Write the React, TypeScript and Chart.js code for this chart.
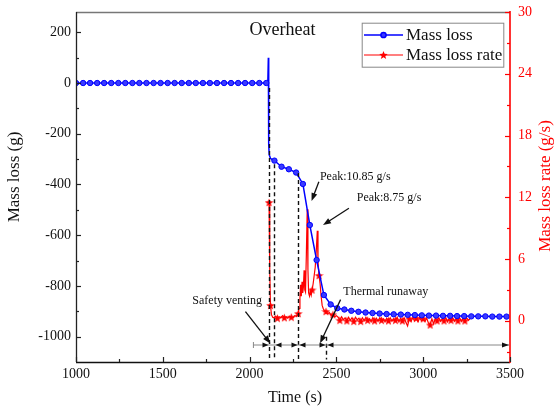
import React, { useEffect, useRef } from 'react';
import { Chart, registerables } from 'chart.js';
Chart.register(...registerables);

// ---------- data ----------
const massLossTime = [
  1000, 1041, 1081, 1122, 1162, 1203, 1244, 1284, 1325, 1365, 1406, 1447, 1487, 1528,
  1568, 1609, 1650, 1690, 1731, 1771, 1812, 1853, 1893, 1934, 1974, 2015, 2056, 2096,
  2105, 2108, 2110, 2113, 2120, 2130,
  2143, 2184, 2226, 2268, 2307, 2347, 2386, 2428, 2467, 2505,
  2546, 2586, 2627, 2668, 2708, 2749, 2789, 2830, 2871, 2911, 2952, 2992, 3033, 3074,
  3114, 3155, 3195, 3236, 3277, 3317, 3358, 3398, 3439, 3480,
];
const massLossValue = [
  0, 0, 0, 0, 0, 0, 0, 0, 0, 0, 0, 0, 0, 0,
  0, 0, 0, 0, 0, 0, 0, 0, 0, 0, 0, 0, 0, 0,
  0, 100, -240, -283, -297, -302,
  -306, -330, -340, -353, -398, -560, -698, -836, -873, -888,
  -893, -898, -902, -905, -907, -909, -911, -912, -913, -914, -915, -916, -917, -917,
  -918, -918, -919, -919, -920, -920, -920, -921, -921, -921,
];

const rateTime = [
  2112, 2116, 2120, 2126, 2133, 2140, 2150, 2160, 2170, 2180, 2190, 2200, 2210, 2220,
  2230, 2240, 2250, 2260, 2270, 2280,
  2285, 2290, 2294, 2298, 2302, 2306, 2310, 2314, 2318, 2322, 2327, 2332, 2336, 2340,
  2345, 2350, 2355, 2360, 2366, 2372, 2378, 2384, 2390, 2394, 2400, 2406, 2412, 2418,
  2424, 2430, 2440, 2450, 2460, 2470, 2480, 2490, 2500,
  2510, 2520, 2530, 2540, 2550, 2560, 2570, 2580, 2590, 2600, 2610, 2620, 2630, 2640,
  2650, 2660, 2670, 2680, 2690, 2700, 2710, 2720, 2730, 2740, 2750, 2760, 2770, 2780,
  2790, 2800, 2810, 2820, 2830, 2840, 2850, 2860, 2870, 2880, 2890, 2900, 2910, 2920,
  2930, 2940, 2950, 2960, 2970, 2980, 2990, 3000, 3010, 3020, 3030, 3040, 3050, 3060,
  3070, 3080, 3090, 3100, 3110, 3120, 3130, 3140, 3150, 3160, 3170, 3180, 3190, 3200,
  3210, 3220, 3230, 3240, 3250, 3260, 3270,
];
const rateValue = [
  11.5, 5.0, 1.5, 0.6, 0.35, 0.3, 0.45, 0.25, 0.4, 0.3, 0.5, 0.3, 0.4, 0.25,
  0.45, 0.35, 0.3, 0.5, 0.45, 0.7,
  1.2, 2.2, 3.5, 2.4, 3.8, 2.7, 3.3, 4.9, 3.0, 2.8, 6.5, 10.85, 5.0, 2.7,
  2.4, 2.9, 2.5, 3.0, 3.6, 4.4, 5.2, 6.8, 8.75, 5.8, 4.4, 3.6, 2.4, 1.5,
  1.2, 1.0, 0.9, 0.7, 0.8, 0.5, 0.6, 0.4, 0.5,
  0.35, 0.05, 0.4, 0.1, 0.3, 0.0, 0.35, 0.05, 0.3, -0.05, 0.35, 0.1, 0.25, -0.05,
  0.3, 0.0, 0.35, 0.05, 0.2, -0.1, 0.3, 0.0, 0.25, -0.05, 0.3, 0.05, 0.2, -0.1,
  0.25, 0.0, 0.3, -0.05, 0.2, 0.05, 0.35, -0.1, 0.25, 0.0, 0.3, -0.15, -0.5, 0.2,
  -0.05, 0.3, 0.0, 0.25, -0.1, 0.3, 0.0, 0.2, -0.05, 0.25, -0.2, -0.4, 0.2, -0.3,
  0.25, 0.0, 0.3, -0.05, 0.2, 0.0, 0.3, -0.1, 0.25, 0.05, 0.3, -0.05, 0.2, 0.0,
  0.3, -0.05, 0.25, 0.0, 0.3, 0.05, 0.2,
];

const xTicks = [1000, 1500, 2000, 2500, 3000, 3500];
const xMinorTicks = [1250, 1750, 2250, 2750, 3250];
const yLeftTicks = [-1000, -800, -600, -400, -200, 0, 200];
const yLeftMinor = [-900, -700, -500, -300, -100, 100];
const yRightTicks = [0, 6, 12, 18, 24, 30];
const yRightMinor = [-3, 3, 9, 15, 21, 27];

// annotation positions in data units (time, mass loss)
const phaseTimes = [2110, 2139, 2281, 2441];
const phaseTops = [-20, -320, -355, -1000];
const phaseBottom = -1090;
const spanLevel = -1033;
const spanStart = 2022;
const spanEnd = 3500;

const labelTexts = ['Overheat', 'Safety venting', 'Thermal runaway', 'Peak:10.85 g/s', 'Peak:8.75 g/s'];
const labelTimes = [2189, 1670, 2540, 2405, 2617];
const labelValues = [207, -857, -823, -370, -451];

const pointerFrom = [[1976, -901], [2524, -854], [2399, -389], [2572, -494]];
const pointerTo = [[2120, -1027], [2406, -1026], [2357, -465], [2423, -560]];

const SERIF = '"Liberation Serif", "Times New Roman", serif';
const BLUE = '#0000ff';
const RED = '#ff0000';

function makeStar(size: number, color: string) {
  const c = document.createElement('canvas');
  c.width = size;
  c.height = size;
  const g = c.getContext('2d')!;
  drawStar(g, size / 2, size / 2 + 0.4, size / 2, color);
  return c;
}

function drawStar(g: CanvasRenderingContext2D, cx: number, cy: number, r: number, color: string) {
  g.beginPath();
  for (let i = 0; i < 10; i++) {
    const rr = i % 2 === 0 ? r : r * 0.42;
    const a = -Math.PI / 2 + (i * Math.PI) / 5;
    const x = cx + rr * Math.cos(a);
    const y = cy + rr * Math.sin(a);
    if (i === 0) g.moveTo(x, y);
    else g.lineTo(x, y);
  }
  g.closePath();
  g.fillStyle = color;
  g.fill();
}

function arrowHead(g: CanvasRenderingContext2D, x: number, y: number, angle: number, len: number, half: number) {
  const c = Math.cos(angle), s = Math.sin(angle);
  g.beginPath();
  g.moveTo(x, y);
  g.lineTo(x - len * c + half * s, y - len * s - half * c);
  g.lineTo(x - len * c - half * s, y - len * s + half * c);
  g.closePath();
  g.fill();
}

const overlayPlugin = {
  id: 'overlay',
  afterDatasetsDraw(chart: any) {
    const g: CanvasRenderingContext2D = chart.ctx;
    const ca = chart.chartArea;
    const xs = chart.scales.x, ys = chart.scales.y, yr = chart.scales.y1;
    const px = (t: number) => xs.getPixelForValue(t);
    const py = (v: number) => ys.getPixelForValue(v);
    g.save();

    // dashed phase lines
    g.strokeStyle = '#111';
    g.lineWidth = 1.4;
    g.setLineDash([4, 3]);
    phaseTimes.forEach((t, i) => {
      const x = Math.round(px(t)) + 0.5;
      g.beginPath();
      g.moveTo(x, py(phaseTops[i]));
      g.lineTo(x, py(phaseBottom));
      g.stroke();
    });
    g.setLineDash([]);

    // span line with arrowheads
    const sy = py(spanLevel);
    g.strokeStyle = '#888';
    g.lineWidth = 1;
    g.beginPath();
    g.moveTo(px(spanStart), sy);
    g.lineTo(px(spanEnd) - 1, sy);
    g.stroke();
    g.beginPath();
    g.moveTo(px(spanStart), sy - 3);
    g.lineTo(px(spanStart), sy + 3);
    g.stroke();
    g.fillStyle = '#111';
    const d = phaseTimes.map((t) => Math.round(px(t)) + 0.5);
    arrowHead(g, d[0] - 1, sy, 0, 6, 2.5);
    arrowHead(g, d[1] + 1, sy, Math.PI, 6, 2.5);
    arrowHead(g, d[2] - 1, sy, 0, 6, 2.5);
    arrowHead(g, d[2] + 1, sy, Math.PI, 6, 2.5);
    arrowHead(g, d[3] - 1, sy, 0, 6, 2.5);
    arrowHead(g, d[3] + 1, sy, Math.PI, 6, 2.5);
    arrowHead(g, px(spanEnd) - 1, sy, 0, 7, 2.5);

    // pointer arrows
    g.strokeStyle = '#111';
    g.fillStyle = '#111';
    g.lineWidth = 1.3;
    pointerFrom.forEach((f, i) => {
      const x1 = px(f[0]), y1 = py(f[1]);
      const x2 = px(pointerTo[i][0]), y2 = py(pointerTo[i][1]);
      const a = Math.atan2(y2 - y1, x2 - x1);
      g.beginPath();
      g.moveTo(x1, y1);
      g.lineTo(x2 - 5 * Math.cos(a), y2 - 5 * Math.sin(a));
      g.stroke();
      arrowHead(g, x2, y2, a, 8, 3);
    });

    // text labels
    g.fillStyle = '#111';
    g.textBaseline = 'middle';
    labelTexts.forEach((txt, i) => {
      if (i === 0) {
        g.font = `18px ${SERIF}`;
        g.textAlign = 'center';
      } else {
        g.font = `12px ${SERIF}`;
        g.textAlign = 'left';
      }
      g.fillText(txt, px(labelTimes[i]), py(labelValues[i]));
    });

    // frame
    g.lineWidth = 1.3;
    g.strokeStyle = '#777';
    g.beginPath();
    g.moveTo(ca.left, ca.top + 0.5);
    g.lineTo(ca.right, ca.top + 0.5);
    g.stroke();
    g.strokeStyle = '#222';
    g.beginPath();
    g.moveTo(ca.left + 0.5, ca.top);
    g.lineTo(ca.left + 0.5, ca.bottom);
    g.stroke();
    g.strokeStyle = '#111';
    g.beginPath();
    g.moveTo(ca.left, ca.bottom + 0.5);
    g.lineTo(ca.right, ca.bottom + 0.5);
    g.stroke();
    g.strokeStyle = RED;
    g.lineWidth = 1.6;
    g.beginPath();
    g.moveTo(ca.right, ca.top - 1);
    g.lineTo(ca.right, ca.bottom + 1);
    g.stroke();

    // tick marks (inward)
    g.lineWidth = 1.2;
    g.strokeStyle = '#222';
    yLeftTicks.forEach((v) => {
      const y = Math.round(py(v)) + 0.5;
      g.beginPath(); g.moveTo(ca.left, y); g.lineTo(ca.left + 5, y); g.stroke();
    });
    yLeftMinor.forEach((v) => {
      const y = Math.round(py(v)) + 0.5;
      g.beginPath(); g.moveTo(ca.left, y); g.lineTo(ca.left + 3, y); g.stroke();
    });
    xTicks.forEach((t) => {
      const x = Math.round(px(t)) + 0.5;
      g.beginPath(); g.moveTo(x, ca.bottom); g.lineTo(x, ca.bottom - 5); g.stroke();
    });
    xMinorTicks.forEach((t) => {
      const x = Math.round(px(t)) + 0.5;
      g.beginPath(); g.moveTo(x, ca.bottom); g.lineTo(x, ca.bottom - 3); g.stroke();
    });
    g.strokeStyle = RED;
    yRightTicks.forEach((v) => {
      const y = Math.round(yr.getPixelForValue(v)) + 0.5;
      g.beginPath(); g.moveTo(ca.right, y); g.lineTo(ca.right - 5, y); g.stroke();
    });
    yRightMinor.forEach((v) => {
      const y = Math.round(yr.getPixelForValue(v)) + 0.5;
      g.beginPath(); g.moveTo(ca.right, y); g.lineTo(ca.right - 3, y); g.stroke();
    });

    // legend
    const lx = ca.right - 148.3, ly = ca.top + 10.7;
    g.fillStyle = '#fff';
    g.fillRect(lx, ly, 141.6, 44);
    g.strokeStyle = '#888';
    g.lineWidth = 1;
    g.strokeRect(lx + 0.5, ly + 0.5, 141.6, 44);
    const r1 = ly + 12.3, r2 = ly + 32.3;
    g.lineWidth = 1.5;
    g.strokeStyle = BLUE;
    g.beginPath(); g.moveTo(lx + 2.3, r1); g.lineTo(lx + 41.3, r1); g.stroke();
    g.fillStyle = '#3a3aff';
    g.beginPath(); g.arc(lx + 21.8, r1, 2.6, 0, Math.PI * 2); g.fill(); g.stroke();
    g.strokeStyle = RED;
    g.lineWidth = 1.2;
    g.beginPath(); g.moveTo(lx + 2.3, r2); g.lineTo(lx + 41.3, r2); g.stroke();
    drawStar(g, lx + 21.8, r2 + 0.4, 4.5, RED);
    g.fillStyle = '#111';
    g.font = `17px ${SERIF}`;
    g.textAlign = 'left';
    g.textBaseline = 'middle';
    g.fillText('Mass loss', lx + 44.3, r1 + 1);
    g.fillText('Mass loss rate', lx + 44.3, r2 + 1);

    // axis titles
    g.font = `17px ${SERIF}`;
    g.textAlign = 'center';
    g.fillStyle = '#111';
    g.save();
    g.translate(15, (ca.top + ca.bottom) / 2 - 10);
    g.rotate(-Math.PI / 2);
    g.fillText('Mass loss (g)', 0, 0);
    g.restore();
    g.save();
    g.fillStyle = RED;
    g.translate(546, (ca.top + ca.bottom) / 2 - 1);
    g.rotate(-Math.PI / 2);
    g.fillText('Mass loss rate (g/s)', 0, 0);
    g.restore();
    g.font = `16px ${SERIF}`;
    g.fillText('Time (s)', (ca.left + ca.right) / 2 + 2, 398);

    g.restore();
  },
};

const plainLabel = (v: any) => String(v);

export default function App() {
  const ref = useRef<HTMLCanvasElement | null>(null);
  useEffect(() => {
    if (!ref.current) return;
    const star = makeStar(9, RED);
    const tickFont = { family: SERIF, size: 14 };
    const chart = new Chart(ref.current, {
      type: 'line',
      data: {
        datasets: [
          {
            label: 'Mass loss',
            data: massLossTime.map((t, i) => ({ x: t, y: massLossValue[i] })),
            yAxisID: 'y',
            borderColor: BLUE,
            borderWidth: 1.5,
            tension: 0,
            pointStyle: 'circle',
            pointRadius: (c: any) => {
              const t = c.raw ? c.raw.x : 0;
              return t > 2100 && t < 2140 ? 0 : 2.7;
            },
            pointBackgroundColor: '#3a3aff',
            pointBorderColor: BLUE,
            pointBorderWidth: 1,
          },
          {
            label: 'Mass loss rate',
            data: rateTime.map((t, i) => ({ x: t, y: rateValue[i] })),
            yAxisID: 'y1',
            borderColor: RED,
            borderWidth: 1.2,
            tension: 0,
            pointStyle: star as any,
            pointRadius: (c: any) => {
              const t = c.raw ? c.raw.x : 1;
              return c.dataIndex === 0 || t % 40 === 0 ? 4 : 0;
            },
          },
        ],
      },
      options: {
        animation: false,
        responsive: false,
        maintainAspectRatio: false,
        layout: { padding: { top: 12, left: 0, right: 0, bottom: 0 } },
        plugins: { legend: { display: false }, tooltip: { enabled: false } },
        scales: {
          x: {
            type: 'linear',
            min: 1000,
            max: 3500,
            afterBuildTicks: (s: any) => { s.ticks = xTicks.map((v) => ({ value: v })); },
            afterFit: (s: any) => { s.height = 51; s.paddingLeft = 0; s.paddingRight = 0; },
            grid: { display: false, drawTicks: false },
            border: { display: false },
            ticks: { font: tickFont, color: '#111', padding: 4, maxRotation: 0, autoSkip: false, callback: plainLabel },
          },
          y: {
            type: 'linear',
            position: 'left',
            min: -1100,
            max: 280,
            afterBuildTicks: (s: any) => { s.ticks = yLeftTicks.map((v) => ({ value: v })); },
            afterFit: (s: any) => { s.width = 76; s.paddingTop = 0; s.paddingBottom = 0; },
            grid: { display: false, drawTicks: false },
            border: { display: false },
            ticks: { font: tickFont, color: '#111', padding: 5, autoSkip: false, callback: plainLabel },
          },
          y1: {
            type: 'linear',
            position: 'right',
            min: -4,
            max: 30,
            afterBuildTicks: (s: any) => { s.ticks = yRightTicks.map((v) => ({ value: v })); },
            afterFit: (s: any) => { s.width = 45; s.paddingTop = 0; s.paddingBottom = 0; },
            grid: { display: false, drawTicks: false },
            border: { display: false },
            ticks: { font: tickFont, color: RED, padding: 8, autoSkip: false, callback: plainLabel },
          },
        },
      } as any,
      plugins: [overlayPlugin],
    });
    return () => chart.destroy();
  }, []);
  return (
    <div style={{ position: 'absolute', left: 0, top: 0, width: 555, height: 413, background: '#fff' }}>
      <canvas ref={ref} width={555} height={413} style={{ width: 555, height: 413, display: 'block' }} />
    </div>
  );
}
